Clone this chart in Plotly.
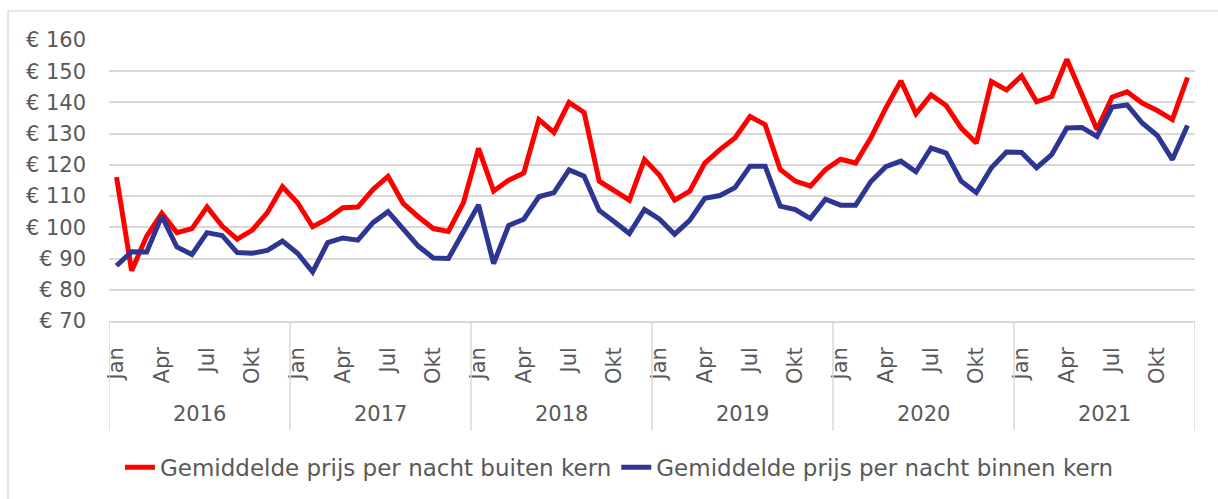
import plotly.graph_objects as go

years = [2016, 2017, 2018, 2019, 2020, 2021]
months = ["Jan", "Feb", "Mrt", "Apr", "Mei", "Jun", "Jul", "Aug", "Sep", "Okt", "Nov", "Dec"]
shown_months = ["Jan", "Apr", "Jul", "Okt"]

buiten_kern = [
    116.1, 86.1, 97.2, 104.5, 98.3, 99.6, 106.5, 100.4, 96.2, 99.1, 104.7, 113.0,
    107.9, 100.2, 102.8, 106.3, 106.5, 112.1, 116.3, 107.7, 103.4, 99.6, 98.7, 107.9,
    125.3, 111.6, 115.1, 117.4, 134.5, 130.4, 140.0, 136.8, 114.8, 111.6, 108.7, 121.7,
    116.7, 108.7, 111.6, 120.6, 124.9, 128.6, 135.5, 132.9, 118.5, 114.8, 113.2, 118.5,
    121.8, 120.6, 128.6, 138.2, 146.9, 136.4, 142.4, 139.0, 131.8, 127.0, 146.7, 144.0,
    148.5, 140.2, 141.9, 153.8, 142.4, 131.3, 141.7, 143.4, 139.8, 137.4, 134.5, 148.0,
]
binnen_kern = [
    87.7, 92.2, 92.1, 103.6, 93.7, 91.3, 98.3, 97.4, 91.9, 91.7, 92.6, 95.6,
    91.7, 85.7, 95.1, 96.6, 95.9, 101.5, 105.0, 99.7, 94.0, 90.2, 90.0, 98.6,
    107.2, 88.4, 100.6, 102.6, 109.8, 111.1, 118.4, 116.4, 105.4, 101.8, 98.0, 105.7,
    102.6, 97.8, 102.2, 109.3, 110.2, 112.7, 119.6, 119.6, 106.8, 105.7, 102.8, 109.0,
    107.1, 107.1, 114.6, 119.4, 121.2, 117.8, 125.4, 123.8, 114.8, 111.1, 119.1, 124.1,
    124.0, 119.1, 123.3, 131.8, 132.0, 129.1, 138.5, 139.2, 133.4, 129.4, 121.7, 132.6,
]
y_ticks = [70, 80, 90, 100, 110, 120, 130, 140, 150, 160]
y_ticktext = ["€ %d" % v for v in y_ticks]

series_names = [
    "Gemiddelde prijs per nacht buiten kern",
    "Gemiddelde prijs per nacht binnen kern",
]

# position index for each (year, month)
x_pos = list(range(len(years) * len(months)))
month_tick_pos = [i for i in x_pos if months[i % 12] in shown_months]
month_tick_txt = [months[i % 12] for i in month_tick_pos]

FONT = "DejaVu Sans"
GREY = "#595959"
GRID = "#D9D9D9"

fig = go.Figure()
fig.add_trace(go.Scatter(x=x_pos, y=buiten_kern, mode="lines", name=series_names[0],
                         line=dict(color="#FF0000", width=5)))
fig.add_trace(go.Scatter(x=x_pos, y=binnen_kern, mode="lines", name=series_names[1],
                         line=dict(color="#2E3592", width=5)))

# year separators and year labels
for k in range(len(years) + 1):
    fig.add_shape(type="line", xref="x", yref="paper",
                  x0=k * 12 - 0.5, x1=k * 12 - 0.5, y0=-0.39, y1=0,
                  line=dict(color=GRID, width=1.5))
for k, yr in enumerate(years):
    fig.add_annotation(x=k * 12 + 5.5, xref="x", y=-0.33, yref="paper",
                       text=str(yr), showarrow=False,
                       font=dict(family=FONT, size=21, color=GREY),
                       xanchor="center", yanchor="middle")

# outer chart border
fig.add_shape(type="rect", xref="paper", yref="paper",
              x0=-0.093, x1=1.05, y0=-0.7, y1=1.104,
              line=dict(color=GRID, width=1.3), layer="below")

fig.update_layout(
    width=1218, height=499,
    margin=dict(l=109, r=23, t=40, b=177),
    paper_bgcolor="white", plot_bgcolor="white",
    font=dict(family=FONT, size=21, color=GREY),
    showlegend=True,
    legend=dict(orientation="h", x=0.47, xanchor="center", y=-0.515, yanchor="middle",
                font=dict(family=FONT, size=23, color=GREY),
                tracegroupgap=0),
    xaxis=dict(range=[-0.5, 71.5], tickmode="array", tickvals=month_tick_pos,
               ticktext=month_tick_txt, tickangle=-90, showgrid=False, zeroline=False,
               showline=True, linecolor=GRID, linewidth=1.5, ticks="",
               ticklabelstandoff=16,
               tickfont=dict(family=FONT, size=21, color=GREY)),
    yaxis=dict(range=[70, 160], tickmode="array", tickvals=y_ticks, ticktext=y_ticktext,
               showgrid=True, gridcolor=GRID, gridwidth=1.5, zeroline=False,
               showline=False, ticks="", ticklabelstandoff=22,
               tickfont=dict(family=FONT, size=21, color=GREY)),
)

fig.write_html("out.html", config={"displayModeBar": False},
               post_script="document.body.style.margin='0';")
